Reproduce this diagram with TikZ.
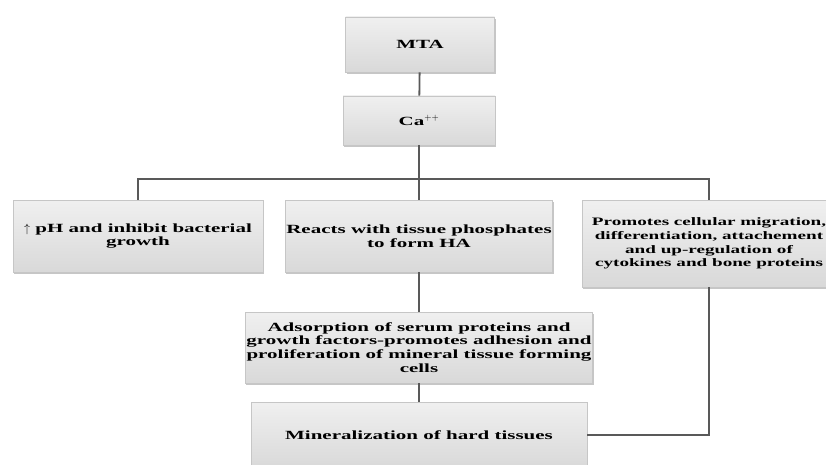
\documentclass[tikz,border=0pt]{standalone}
\usepackage{fontspec}
\setmainfont{Liberation Serif}[FakeStretch=1.68]
\usetikzlibrary{arrows, shapes, positioning, arrows.meta, shadows}

\tikzset{
	stepbox/.style={rectangle, draw=gray!45, line width=0.8pt, top color=gray!12, bottom color=gray!30,
		drop shadow={shadow xshift=1pt, shadow yshift=-2pt, opacity=0.45, fill=gray},
		align=center, inner sep=1pt, font=\fontsize{12.5}{13.8}\selectfont\bfseries},
	link/.style={draw=black!65, line width=1.8pt}
}

\begin{document}
\begin{tikzpicture}[x=1pt, y=-1pt]
			\useasboundingbox (0, 0) rectangle (826, 465);
			\clip (0, 0) rectangle (826, 465);
			\node (mta)[stepbox, minimum width=149pt, minimum height=55pt] at (420, 44.5) {MTA};
			\node (ca)[stepbox, minimum width=152pt, minimum height=49pt] at (419, 120.5) {Ca$^{++}$};
			\coordinate (bar) at (419, 179);
			\node (ph)[stepbox, minimum width=250pt, minimum height=72pt] at (138, 236) {$\uparrow$ pH and inhibit bacterial\\growth};
			\node (ha)[stepbox, minimum width=261pt, minimum height=72pt] at (419, 236) {Reacts with tissue phosphates\\to form HA};
			\node (cell)[stepbox, minimum width=254pt, minimum height=87pt, font=\fontsize{11.4}{13.6}\selectfont\bfseries] at (709, 243.5) {Promotes cellular migration,\\differentiation, attachement\\and up-regulation of\\cytokines and bone proteins};
			\node (ads)[stepbox, minimum width=335pt, minimum height=71pt] at (419, 347.5) {Adsorption of serum proteins and\\growth factors-promotes adhesion and\\proliferation of mineral tissue forming\\cells};
			\node (min)[stepbox, minimum width=336pt, minimum height=66pt] at (419, 435) {Mineralization of hard tissues};
			\draw[link] (mta) -- (ca);
			\draw[link] (ca) -- (bar);
			\draw[link] (ph.north) |- (bar) -| (cell.north);
			\draw[link] (bar) -- (ha);
			\draw[link] (ha) -- (ads);
			\draw[link] (ads) -- (min);
			\draw[link] (cell.south) |- (min.east);
		\end{tikzpicture}
\end{document}
